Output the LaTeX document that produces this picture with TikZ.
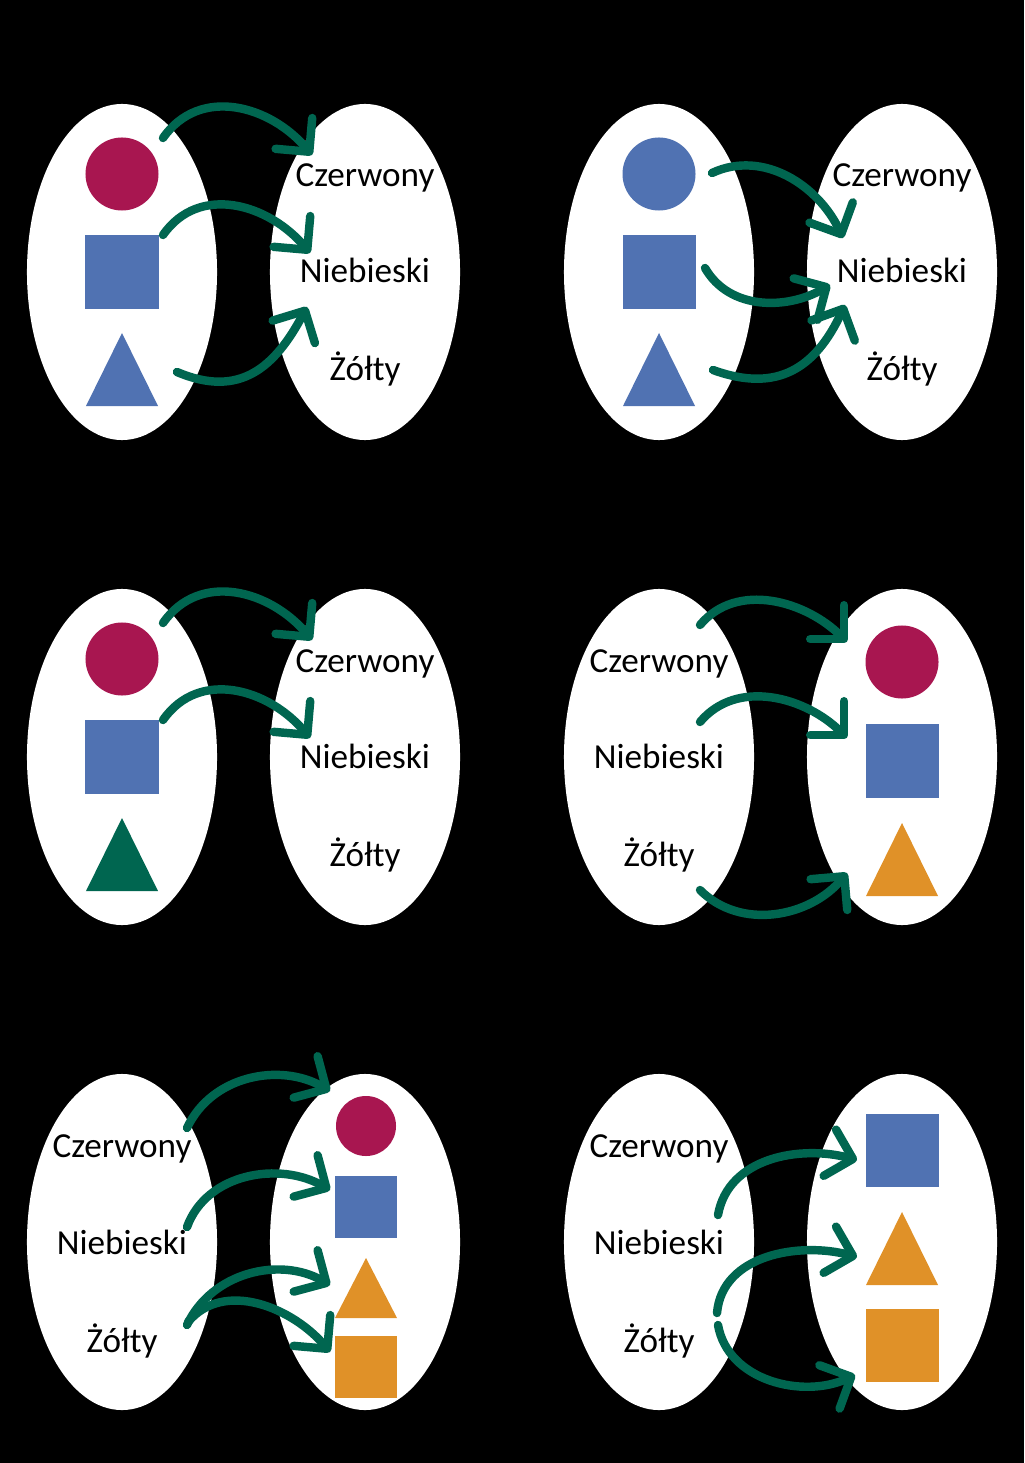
\documentclass[tikz,border=0pt]{standalone}
\usepackage{fontspec}
\setmainfont{Carlito}
\usetikzlibrary{shapes.geometric,arrows.meta,calc}
\definecolor{zielony}{RGB}{0,102,80}
\definecolor{karmin}{RGB}{168,22,80}
\definecolor{niebieski}{RGB}{80,114,178}
\definecolor{pomarancz}{RGB}{224,145,40}

\begin{document}
\begin{tikzpicture}[x=0.025cm, y=-0.025cm]
        \tikzset{zbior/.style={ellipse, fill=white, inner sep=0pt, minimum width=4.75cm, minimum height=8.4cm}}
        \tikzset{napis/.style={anchor=base, font=\fontsize{25}{29}\selectfont}}
        \tikzset{kolo/.style={circle, inner sep=0pt, minimum size=1.825cm}}
        \tikzset{kwadrat/.style={rectangle, inner sep=0pt, minimum size=1.825cm}}
        \tikzset{trojkat/.style={isosceles triangle, isosceles triangle stretches, shape border rotate=90, inner sep=0pt, outer sep=0pt, anchor=apex, minimum width=1.8cm, minimum height=1.825cm}}
        \tikzset{strzalka/.style={draw=zielony, line width=6pt, line cap=round, -{Straight Barb[length=17pt, width=34pt, round]}}}
        \fill[black] (0,0) rectangle (1024,1463);

        \node[zbior] (L1) at (122,272) {};
        \node[zbior] (R1) at (365,272) {};
        \node[kolo, fill=karmin] (k1) at (122,174) {};
        \node[kwadrat, fill=niebieski] (kw1) at (122,272) {};
        \node[trojkat, fill=niebieski] (t1) at (122,333) {};
        \node[napis] (cz1) at (365,187) {Czerwony};
        \node[napis] (ni1) at (365,283) {Niebieski};
        \node[napis] (zo1) at (365,381) {Żółty};
        \draw[strzalka] ($(k1)+(41,-36)$) to[out=55, in=130, looseness=1.1] ($(cz1.base)+(-53,-32)$);
        \draw[strzalka] ($(kw1)+(41,-37)$) to[out=55, in=130, looseness=1.1] ($(ni1.base)+(-55,-30)$);
        \draw[strzalka] ($(t1.apex)+(55,39)$) to[out=-23, in=-118, looseness=1.2] ($(zo1.base)+(-58,-74)$);

        \node[zbior] (L2) at (659,272) {};
        \node[zbior] (R2) at (902,272) {};
        \node[kolo, fill=niebieski] (k2) at (659,174) {};
        \node[kwadrat, fill=niebieski] (kw2) at (659,272) {};
        \node[trojkat, fill=niebieski] (t2) at (659,333) {};
        \node[napis] (cz2) at (902,187) {Czerwony};
        \node[napis] (ni2) at (902,283) {Niebieski};
        \node[napis] (zo2) at (902,381) {Żółty};
        \draw[strzalka] ($(k2)+(53,-1)$) to[out=25, in=115] ($(ni2.base)+(-59,-45)$);
        \draw[strzalka] ($(kw2)+(46,-4)$) to[out=-60, in=-150] ($(ni2.base)+(-72,2)$);
        \draw[strzalka] ($(t2.apex)+(54,37)$) to[out=-20, in=-115, looseness=1.2] ($(zo2.base)+(-57,-76)$);

        \node[zbior] (L3) at (122,757) {};
        \node[zbior] (R3) at (365,757) {};
        \node[kolo, fill=karmin] (k3) at (122,659) {};
        \node[kwadrat, fill=niebieski] (kw3) at (122,757) {};
        \node[trojkat, fill=zielony] (t3) at (122,818) {};
        \node[napis] (cz3) at (365,672) {Czerwony};
        \node[napis] (ni3) at (365,768) {Niebieski};
        \node[napis] (zo3) at (365,866) {Żółty};
        \draw[strzalka] ($(k3)+(41,-36)$) to[out=55, in=130, looseness=1.1] ($(cz3.base)+(-53,-32)$);
        \draw[strzalka] ($(kw3)+(41,-37)$) to[out=55, in=130, looseness=1.1] ($(ni3.base)+(-55,-30)$);

        \node[zbior] (L4) at (659,757) {};
        \node[zbior] (R4) at (902,757) {};
        \node[napis] (cz4) at (659,672) {Czerwony};
        \node[napis] (ni4) at (659,768) {Niebieski};
        \node[napis] (zo4) at (659,866) {Żółty};
        \node[kolo, fill=karmin] (k4) at (902,662) {};
        \node[kwadrat, fill=niebieski] (kw4) at (902,761) {};
        \node[trojkat, fill=pomarancz] (t4) at (902,823) {};
        \draw[strzalka] ($(cz4.base)+(41,-47)$) to[out=50, in=135] ($(k4)+(-55,-20)$);
        \draw[strzalka] ($(ni4.base)+(41,-46)$) to[out=50, in=135] ($(kw4)+(-55,-23)$);
        \draw[strzalka] ($(zo4.base)+(41,24)$) to[out=-45, in=-130] ($(t4.apex)+(-55,50)$);

        \node[zbior] (L5) at (122,1242) {};
        \node[zbior] (R5) at (365,1242) {};
        \node[napis] (cz5) at (122,1157) {Czerwony};
        \node[napis] (ni5) at (122,1254) {Niebieski};
        \node[napis] (zo5) at (122,1352) {Żółty};
        \node[kolo, fill=karmin, minimum size=1.5cm] (k5) at (366,1126) {};
        \node[kwadrat, fill=niebieski, minimum size=1.55cm] (kw5) at (366,1207) {};
        \node[trojkat, fill=pomarancz, minimum width=1.55cm, minimum height=1.5cm] (t5) at (366,1258) {};
        \node[kwadrat, fill=pomarancz, minimum size=1.55cm] (kw5b) at (366,1367) {};
        \draw[strzalka] ($(cz5.base)+(65,-29)$) to[out=65, in=150] ($(k5)+(-36,-35)$);
        \draw[strzalka] ($(ni5.base)+(65,-27)$) to[out=70, in=150] ($(kw5)+(-36,-17)$);
        \draw[strzalka] ($(zo5.base)+(65,-27)$) to[out=65, in=150] ($(t5.apex)+(-36,27)$);
        \draw[strzalka] ($(zo5.base)+(66,-30)$) to[out=50, in=130] ($(kw5b)+(-36,-15)$);

        \node[zbior] (L6) at (659,1242) {};
        \node[zbior] (R6) at (902,1242) {};
        \node[napis] (cz6) at (659,1157) {Czerwony};
        \node[napis] (ni6) at (659,1254) {Niebieski};
        \node[napis] (zo6) at (659,1352) {Żółty};
        \node[kwadrat, fill=niebieski] (kw6) at (902,1150) {};
        \node[trojkat, fill=pomarancz] (t6) at (902,1212) {};
        \node[kwadrat, fill=pomarancz] (kw6b) at (902,1345) {};
        \draw[strzalka] ($(ni6.base)+(59,-39)$) to[out=80, in=165] ($(kw6)+(-45,10)$);
        \draw[strzalka] ($(zo6.base)+(58,-39)$) to[out=85, in=165] ($(t6.apex)+(-45,45)$);
        \draw[strzalka] ($(zo6.base)+(59,-27)$) to[out=-80, in=-155] ($(kw6b)+(-47,30)$);
\end{tikzpicture}
\end{document}
